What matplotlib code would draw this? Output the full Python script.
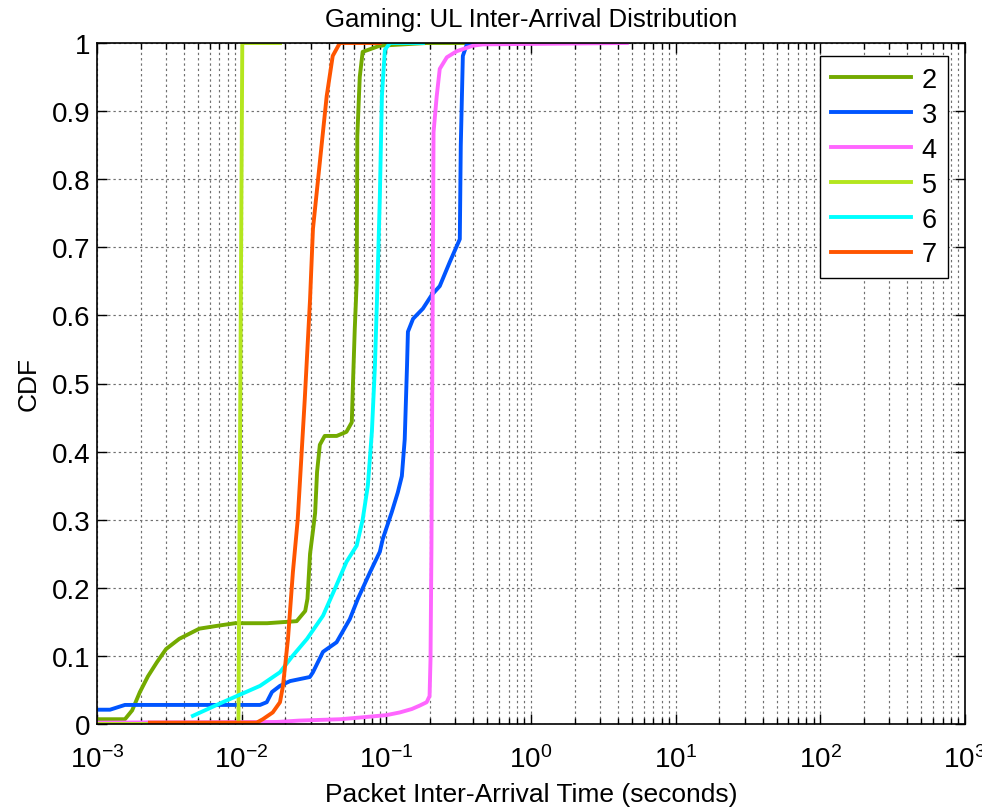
import matplotlib
matplotlib.use("Agg")
import matplotlib.pyplot as plt
import numpy as np
from matplotlib.ticker import LogLocator, FixedLocator, FuncFormatter, NullFormatter

plt.rcParams['font.family'] = ['Liberation Sans', 'DejaVu Sans']
plt.rcParams['mathtext.fontset'] = 'custom'
plt.rcParams['mathtext.rm'] = 'Liberation Sans'
plt.rcParams['mathtext.it'] = 'Liberation Sans'
plt.rcParams['mathtext.bf'] = 'Liberation Sans'

# ---- data ----
labels = ['2', '3', '4', '5', '6', '7']
colors = ['#73AA00', '#0055FF', '#FF66FF', '#B4E61E', '#00FFFF', '#FF5500']

x2 = [0.001, 0.00156, 0.00175, 0.00198, 0.00225, 0.0026, 0.0030, 0.0037, 0.0051, 0.0067,
      0.0090, 0.0150, 0.024, 0.0275, 0.0285, 0.0297, 0.0312, 0.0322, 0.0332, 0.0347,
      0.0375, 0.0454, 0.053, 0.0577, 0.0586, 0.0605, 0.0624, 0.0630, 0.0655, 0.0686,
      0.0901, 0.19, 0.34]
y2 = [0.007, 0.007, 0.02, 0.047, 0.07, 0.091, 0.11, 0.125, 0.14, 0.144,
      0.148, 0.148, 0.151, 0.166, 0.184, 0.25, 0.286, 0.31, 0.37, 0.41,
      0.423, 0.423, 0.429, 0.443, 0.49, 0.58, 0.649, 0.863, 0.95, 0.987,
      0.996, 1.0, 1.0]

x3 = [0.001, 0.00123, 0.00156, 0.0134, 0.0149, 0.0162, 0.0184, 0.0216, 0.0296, 0.0311,
      0.0365, 0.0453, 0.0559, 0.0636, 0.0772, 0.0902, 0.0946, 0.109, 0.120, 0.128,
      0.134, 0.139, 0.141, 0.153, 0.179, 0.206, 0.234, 0.274, 0.322, 0.327,
      0.338, 0.360, 0.5, 1.0]
y3 = [0.021, 0.021, 0.028, 0.028, 0.032, 0.047, 0.056, 0.063, 0.069, 0.076,
      0.106, 0.12, 0.154, 0.184, 0.223, 0.253, 0.272, 0.311, 0.34, 0.364,
      0.418, 0.526, 0.576, 0.595, 0.61, 0.63, 0.643, 0.678, 0.712, 0.849,
      0.981, 0.998, 1.0, 1.0]

x4 = [0.001, 0.0175, 0.025, 0.048, 0.07, 0.1, 0.124, 0.15, 0.17, 0.19,
      0.199, 0.202, 0.205, 0.209, 0.212, 0.223, 0.234, 0.262, 0.307, 0.397,
      0.464, 4.6]
y4 = [0.002, 0.003, 0.005, 0.007, 0.01, 0.013, 0.017, 0.022, 0.027, 0.032,
      0.041, 0.095, 0.257, 0.609, 0.869, 0.922, 0.962, 0.979, 0.988, 0.996,
      0.998, 1.0]

x5 = [0.001, 0.0095, 0.0101, 0.0184]
y5 = [0.0, 0.0, 1.0, 1.0]

x6 = [0.0046, 0.0074, 0.0134, 0.0184, 0.0225, 0.0283, 0.0365, 0.044, 0.053, 0.0624,
      0.0686, 0.0745, 0.0795, 0.0834, 0.0862, 0.0902, 0.0932, 0.0977, 0.106, 0.179]
y6 = [0.012, 0.032, 0.056, 0.076, 0.1, 0.125, 0.159, 0.198, 0.238, 0.262,
      0.30, 0.35, 0.43, 0.526, 0.624, 0.775, 0.922, 0.99, 1.0, 1.0]

x7 = [0.00232, 0.0127, 0.0140, 0.0164, 0.0184, 0.0193, 0.0209, 0.0226, 0.0244, 0.0273,
      0.0297, 0.0311, 0.0347, 0.0387, 0.0426, 0.0477, 0.090]
y7 = [0.002, 0.002, 0.007, 0.017, 0.032, 0.056, 0.125, 0.223, 0.30, 0.477,
      0.624, 0.727, 0.825, 0.922, 0.981, 1.0, 1.0]

series_x = [x2, x3, x4, x5, x6, x7]
series_y = [y2, y3, y4, y5, y6, y7]

yticks = [0, 0.1, 0.2, 0.3, 0.4, 0.5, 0.6, 0.7, 0.8, 0.9, 1]
xticks = [1e-3, 1e-2, 1e-1, 1e0, 1e1, 1e2, 1e3]

title = 'Gaming: UL Inter-Arrival Distribution'
xlabel = 'Packet Inter-Arrival Time (seconds)'
ylabel = 'CDF'

# ---- figure ----
fig = plt.figure(figsize=(9.82, 8.12), dpi=100)
ax = fig.add_axes([97/982, 1-725/812, (965-97)/982, (725-44)/812])

for xs, ys, c, lab in zip(series_x, series_y, colors, labels):
    ax.plot(xs, ys, color=c, lw=2.8, label=lab, solid_joinstyle='round')

ax.set_xscale('log')
ax.set_xlim(1e-3, 1e3)
ax.set_ylim(0, 1)
ax.xaxis.set_major_locator(FixedLocator(xticks))
ax.xaxis.set_minor_locator(LogLocator(base=10, subs=np.arange(2, 10), numticks=100))
ax.xaxis.set_minor_formatter(NullFormatter())
ax.xaxis.set_major_formatter(FuncFormatter(lambda v, p: r'$\mathregular{10^{%d}}$' % int(round(np.log10(v)))))
ax.yaxis.set_major_locator(FixedLocator(yticks))
ax.yaxis.set_major_formatter(FuncFormatter(lambda v, p: '%g' % v))

ax.tick_params(which='both', direction='in', top=True, right=True, labelsize=20, width=1, color='black')
ax.tick_params(which='major', length=7)
ax.tick_params(which='minor', length=4)
ax.tick_params(axis='y', which='major', pad=5)
ax.tick_params(axis='x', which='major', pad=15)

grid_kw = dict(color='#707070', linestyle=(0, (2, 2.5)), linewidth=0.85)
ax.grid(True, which='major', axis='both', **grid_kw)
ax.xaxis.grid(True, which='minor', **grid_kw)
ax.set_axisbelow(True)
for s in ax.spines.values():
    s.set_linewidth(1.2)
    s.set_color('black')

ax.set_title(title, fontsize=18.5, pad=12)
ax.set_xlabel(xlabel, fontsize=19, labelpad=7)
ax.set_ylabel(ylabel, fontsize=19, labelpad=8)

leg = ax.legend(loc='upper right', bbox_to_anchor=(0.980, 0.981), borderaxespad=0,
                fontsize=19.5, handlelength=2.95, labelspacing=0.33, handletextpad=0.4,
                borderpad=0.4, fancybox=False, framealpha=1, edgecolor='black')
leg.get_frame().set_linewidth(1.0)

fig.savefig('out.png', dpi=100, facecolor='white')
